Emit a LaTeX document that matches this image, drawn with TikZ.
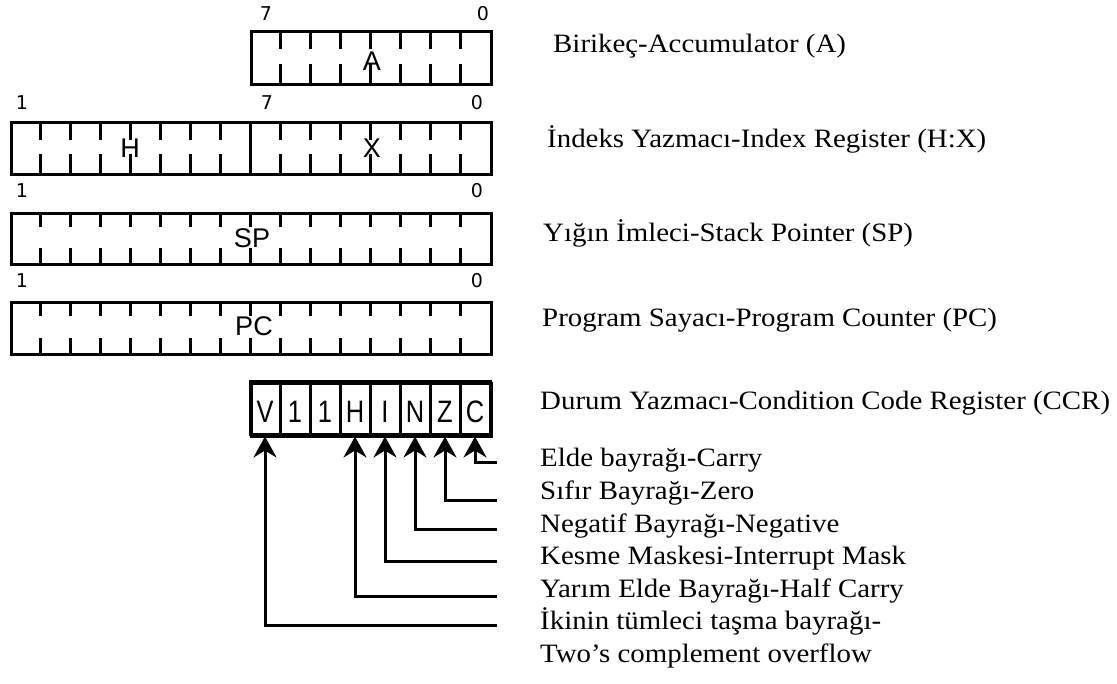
\documentclass[tikz,border=0pt]{standalone}
\usepackage{fontspec}
\setmainfont[FakeStretch=1.09]{Liberation Serif}
\newfontfamily\regfont{Liberation Sans}
\newfontfamily\ccrfont[FakeStretch=0.82]{Liberation Sans}
\newfontfamily\numfont{DejaVu Sans}
\usetikzlibrary{arrows.meta}
\tikzset{
  regbox/.style={draw, line width=3.4pt, inner sep=0pt, anchor=north west},
  tickline/.style={line width=3pt},
  bitnum/.style={inner sep=0pt, font=\numfont\fontsize{19}{21}\selectfont},
  regname/.style={inner sep=0pt, font=\regfont\fontsize{27}{30}\selectfont},
  ccrcell/.style={draw, line width=3pt, inner sep=0pt, minimum width=30pt, minimum height=53pt},
  ccrname/.style={inner sep=0pt, font=\ccrfont\fontsize{31}{34}\selectfont},
  desc/.style={inner sep=0pt, anchor=base west, font=\fontsize{26.5}{30}\selectfont},
  flag/.style={line width=3pt, -{Stealth[length=21pt,width=23pt,inset=7pt]}}
}
\begin{document}
\begin{tikzpicture}[x=1pt,y=-1pt]
\useasboundingbox (0,0) rectangle (1117,684);

% ---- A register
\node[regbox, minimum width=240pt, minimum height=53pt] (regA) at (250,30) {};
\foreach \i in {1,...,7} {
  \draw[tickline] (250+\i*30,30) -- ++(0,19);
  \draw[tickline] (250+\i*30,83) -- ++(0,-19);
}
\node[bitnum] (a7) at (266,14) {7};
\node[bitnum] (a0) at (483,14) {0};
\node[regname] (nA) at (372,61) {A};

% ---- H:X register
\node[regbox, minimum width=480pt, minimum height=52pt] (regHX) at (10,121) {};
\foreach \i in {1,...,15} {
  \draw[tickline] (10+\i*30,121) -- ++(0,19);
  \draw[tickline] (10+\i*30,173) -- ++(0,-19);
}
\draw[tickline] (250,121) -- (250,173);
\node[bitnum] (hx1) at (22,103) {1};
\node[bitnum] (hx7) at (267,103) {7};
\node[bitnum] (hx0) at (477,103) {0};
\node[regname] (nH) at (130,148) {H};
\node[regname] (nX) at (372,148) {X};

% ---- SP register
\node[regbox, minimum width=480pt, minimum height=51pt] (regSP) at (10,212) {};
\foreach \i in {1,...,15} {
  \draw[tickline] (10+\i*30,212) -- ++(0,15);
  \draw[tickline] (10+\i*30,263) -- ++(0,-15);
}
\node[bitnum] (sp1) at (22,191) {1};
\node[bitnum] (sp0) at (477,191) {0};
\node[regname] (nSP) at (252,238) {SP};

% ---- PC register
\node[regbox, minimum width=480pt, minimum height=52pt] (regPC) at (10,301) {};
\foreach \i in {1,...,15} {
  \draw[tickline] (10+\i*30,301) -- ++(0,15);
  \draw[tickline] (10+\i*30,353) -- ++(0,-15);
}
\node[bitnum] (pc1) at (22,281) {1};
\node[bitnum] (pc0) at (477,281) {0};
\node[regname] (nPC) at (254,326) {PC};

% ---- CCR
\foreach \n/\k in {cV/0,c1a/1,c1b/2,cH/3,cI/4,cN/5,cZ/6,cC/7}
  \node[ccrcell] (\n) at (265+\k*30,408.5) {};
\node[regbox, minimum width=240pt, minimum height=53pt] (regCCR) at (250,382) {};
\foreach \t/\k in {V/0,1/1,1/2,H/3,I/4,N/5,Z/6,C/7}
  \node[ccrname] (l\k) at (265+\k*30,412) {\t};

% ---- flag connectors
\coordinate (eC) at (497,463);
\coordinate (eZ) at (497,500);
\coordinate (eN) at (497,529);
\coordinate (eI) at (497,561);
\coordinate (eH) at (497,596);
\coordinate (eV) at (497,625);
\draw[flag] (eC) -| (cC.south);
\draw[flag] (eZ) -| (cZ.south);
\draw[flag] (eN) -| (cN.south);
\draw[flag] (eI) -| (cI.south);
\draw[flag] (eH) -| (cH.south);
\draw[flag] (eV) -| (cV.south);

% ---- descriptions
\node[desc] (dA) at (553,53) {Birikeç-Accumulator (A)};
\node[desc] (dHX) at (547,148) {İndeks Yazmacı-Index Register (H:X)};
\node[desc] (dSP) at (543,242) {Yığın İmleci-Stack Pointer (SP)};
\node[desc] (dPC) at (542,327) {Program Sayacı-Program Counter (PC)};
\node[desc] (dCCR) at (540,410) {Durum Yazmacı-Condition Code Register (CCR)};

\node[desc] (fC) at (540,467) {Elde bayrağı-Carry};
\node[desc] (fZ) at (540,499.5) {Sıfır Bayrağı-Zero};
\node[desc] (fN) at (540,532) {Negatif Bayrağı-Negative};
\node[desc] (fI) at (540,564.5) {Kesme Maskesi-Interrupt Mask};
\node[desc] (fH) at (540,597) {Yarım Elde Bayrağı-Half Carry};
\node[desc] (fV) at (540,629.5) {İkinin tümleci taşma bayrağı-};
\node[desc] (fV2) at (540,662) {Two’s complement overflow};
\end{tikzpicture}
\end{document}
